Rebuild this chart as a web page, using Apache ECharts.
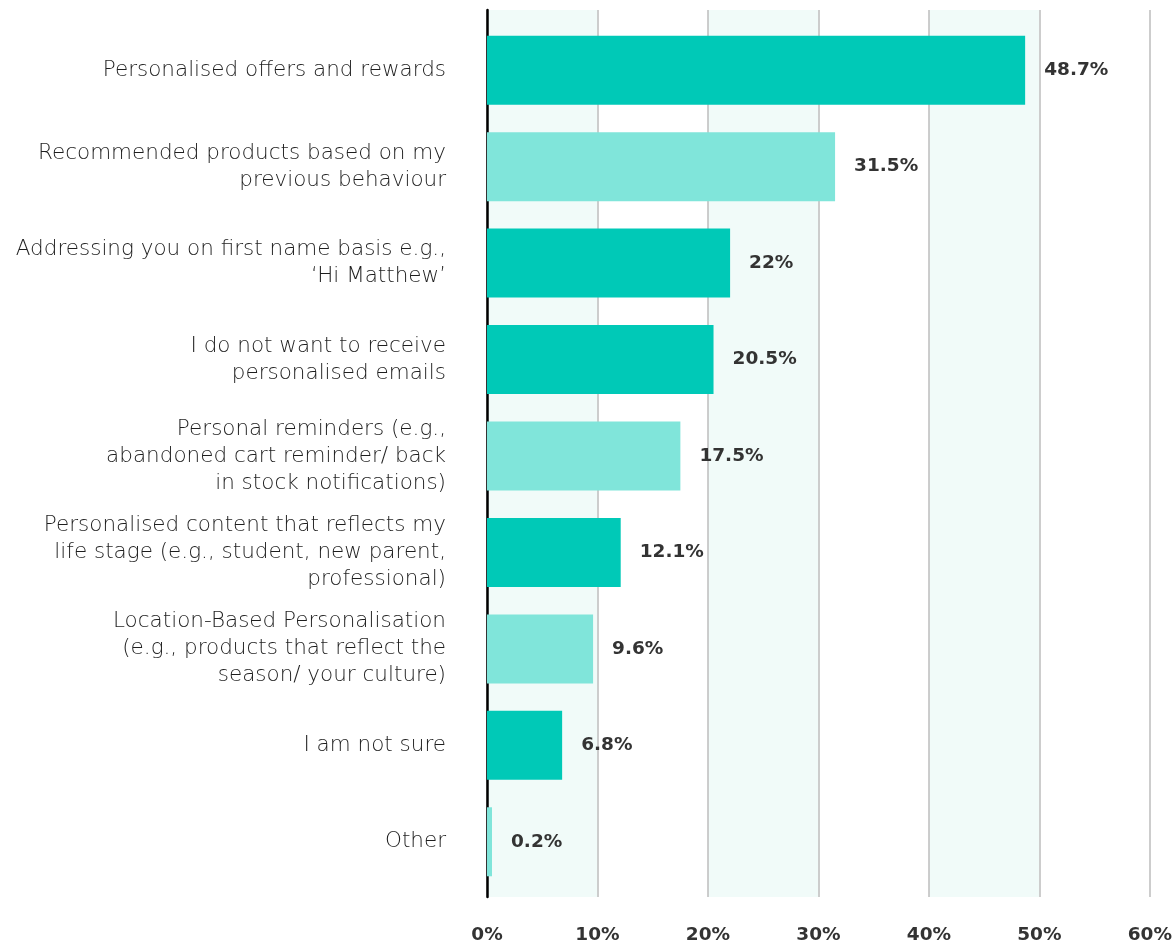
<!DOCTYPE html>
<html>
<head>
<meta charset="utf-8">
<script src="https://cdn.jsdelivr.net/npm/echarts@6/dist/echarts.min.js"></script>
<style>
  html, body { margin: 0; padding: 0; background: #fff; }
  #chart { width: 1175px; height: 945px; }
</style>
</head>
<body>
<div id="chart"></div>
<script>
// Survey answers, top to bottom
const categories = [
  'Personalised offers and rewards',
  'Recommended products based on my\nprevious behaviour',
  'Addressing you on first name basis e.g.,\n\u2018Hi Matthew\u2019',
  'I do not want to receive\npersonalised emails',
  'Personal reminders (e.g.,\nabandoned cart reminder/ back\nin stock notifications)',
  'Personalised content that reflects my\nlife stage (e.g., student, new parent,\nprofessional)',
  'Location-Based Personalisation\n(e.g., products that reflect the\nseason/ your culture)',
  'I am not sure',
  'Other'
];
// Share of respondents (%)
const values = [48.7, 31.5, 22, 20.5, 17.5, 12.1, 9.6, 6.8, 0.2];
// Which bars use the lighter tint
const lightShade = [false, true, false, false, true, false, true, false, true];
// X axis range and step (%)
const xMin = 0, xMax = 60, xStep = 10;

const DARK = '#00c9b7';
const LIGHT = '#80e5da';
const LABEL_FONT = "'DejaVu Sans', 'Open Sans', sans-serif";
const BOLD_FONT = "'DejaVu Sans', 'Open Sans', sans-serif";

const chart = echarts.init(document.getElementById('chart'), null, { renderer: 'canvas' });

chart.setOption({
  animation: false,
  backgroundColor: '#ffffff',
  grid: [
    // background grid: banded columns, gridlines, percent ticks, left axis line
    { left: 487, right: 25, top: 10, bottom: 46 },
    // bar grid
    { left: 487, right: 25, top: 22, bottom: 55 }
  ],
  xAxis: [
    {
      gridIndex: 0, type: 'value', min: xMin, max: xMax, interval: xStep,
      axisLine: { show: false }, axisTick: { show: false },
      axisLabel: {
        formatter: '{value}%', margin: 29,
        color: '#333', fontSize: 18.5, fontWeight: 'bold', fontFamily: BOLD_FONT
      },
      splitLine: { show: true, lineStyle: { color: '#bdbdbd', width: 1.5 } },
      splitArea: { show: true, areaStyle: { color: ['#f1fbf9', '#ffffff'] } }
    },
    {
      gridIndex: 1, type: 'value', min: xMin, max: xMax, interval: xStep,
      show: false, splitLine: { show: false }
    }
  ],
  yAxis: [
    {
      gridIndex: 0, type: 'value', min: 0, max: 1,
      axisLine: { show: true, onZero: false, lineStyle: { color: '#000', width: 2.5 } },
      axisTick: { show: false }, axisLabel: { show: false }, splitLine: { show: false }
    },
    {
      gridIndex: 1, type: 'category', data: categories, inverse: true,
      axisLine: { show: false }, axisTick: { show: false },
      axisLabel: {
        margin: 41, align: 'right',
        color: '#1e1e1e', fontSize: 21.5, lineHeight: 27, fontWeight: 200, fontFamily: LABEL_FONT
      }
    }
  ],
  series: [
    {
      type: 'bar',
      xAxisIndex: 1, yAxisIndex: 1,
      barWidth: 69,
      barMinHeight: 5,
      data: values.map((v, i) => ({
        value: v,
        itemStyle: { color: lightShade[i] ? LIGHT : DARK }
      })),
      label: {
        show: true, position: 'right', distance: 19,
        formatter: p => p.value + '%',
        color: '#333', fontSize: 18.5, fontWeight: 'bold', fontFamily: BOLD_FONT
      }
    }
  ]
});
</script>
</body>
</html>
